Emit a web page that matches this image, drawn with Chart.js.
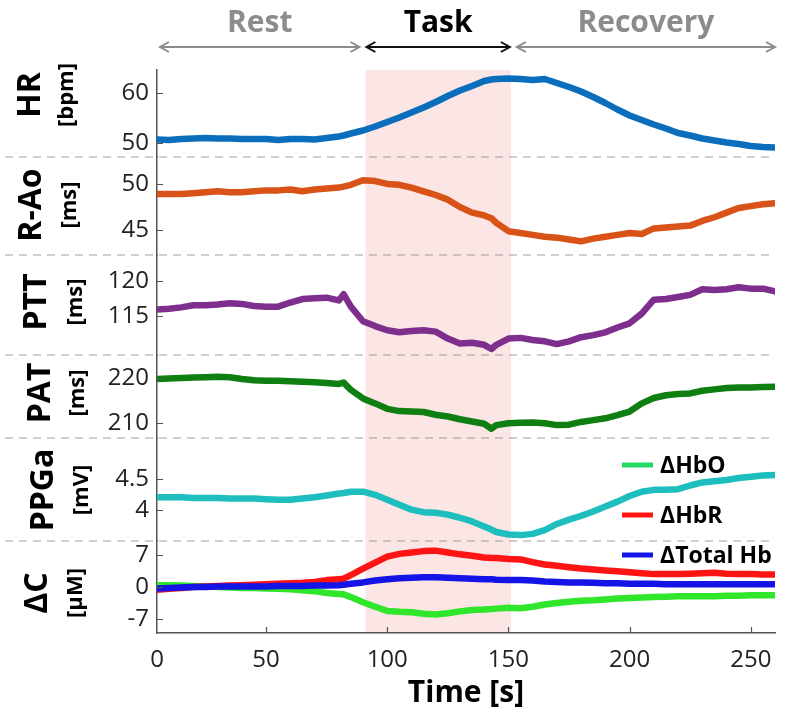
<!DOCTYPE html>
<html>
<head>
<meta charset="utf-8">
<script src="https://cdn.jsdelivr.net/npm/chart.js@4.4.1/dist/chart.umd.min.js"></script>
<style>
  html, body { margin: 0; padding: 0; background: #fff; }
</style>
</head>
<body>
<canvas id="chart" width="789" height="719"></canvas>
<script>
// time axis (s), shared by every trace
const times = [5, 10, 15, 20, 25, 30, 35, 40, 45, 50, 55, 60, 65, 70, 75, 80, 82, 85, 90, 95,
  100, 105, 110, 115, 120, 125, 130, 135, 140, 143, 145, 150, 155, 160, 165, 170, 175, 180, 185, 190,
  195, 200, 205, 210, 215, 220, 225, 230, 235, 240, 245, 250, 255, 260];

const hr = [50.7, 50.6, 50.8, 50.9, 51.0, 50.9, 50.9, 50.8, 50.8, 50.8, 50.6, 50.8, 50.8, 50.7, 51.0, 51.3, 51.5, 51.9, 52.5, 53.3,
  54.2, 55.1, 56.1, 57.1, 58.2, 59.4, 60.5, 61.4, 62.4, 62.7, 62.8, 62.9, 62.8, 62.6, 62.8, 62.0, 61.2, 60.3, 59.2, 58.0,
  56.7, 55.5, 54.6, 53.7, 52.9, 52.0, 51.5, 50.9, 50.5, 50.1, 49.8, 49.4, 49.2, 49.1];

const rao = [48.9, 48.9, 48.9, 49.0, 49.1, 49.2, 49.1, 49.1, 49.2, 49.3, 49.3, 49.4, 49.2, 49.4, 49.5, 49.6, 49.7, 49.9, 50.4, 50.3,
  50.0, 49.9, 49.6, 49.2, 48.8, 48.3, 47.5, 46.9, 46.6, 46.3, 45.8, 44.9, 44.7, 44.5, 44.3, 44.2, 44.0, 43.8, 44.1, 44.3,
  44.5, 44.7, 44.6, 45.2, 45.3, 45.4, 45.5, 46.0, 46.4, 46.9, 47.4, 47.6, 47.8, 47.9];

const ptt = [115.9, 116.0, 116.2, 116.5, 116.5, 116.6, 116.8, 116.7, 116.4, 116.3, 116.3, 116.9, 117.4, 117.5, 117.6, 117.2, 118.1, 116.3, 114.2, 113.5,
  112.9, 112.6, 112.8, 112.9, 112.7, 111.7, 111.0, 111.1, 110.8, 110.2, 110.8, 111.7, 111.8, 111.5, 111.3, 110.9, 111.3, 111.9, 112.2, 112.6,
  113.3, 113.9, 115.3, 117.3, 117.4, 117.7, 118.0, 118.8, 118.7, 118.8, 119.1, 118.9, 118.9, 118.5];

const pat = [219.8, 219.9, 220.0, 220.1, 220.2, 220.3, 220.2, 219.8, 219.5, 219.4, 219.4, 219.3, 219.2, 219.1, 218.9, 218.7, 219.0, 217.4, 215.5, 214.4,
  213.2, 212.7, 212.6, 212.5, 211.9, 211.5, 210.9, 210.4, 209.9, 208.8, 209.6, 210.0, 210.1, 210.2, 210.0, 209.6, 209.7, 210.3, 210.7, 211.1,
  211.8, 212.6, 214.4, 215.6, 216.2, 216.5, 216.6, 217.2, 217.5, 217.8, 217.9, 217.9, 218.0, 218.1];

const ppga = [4.20, 4.20, 4.20, 4.19, 4.19, 4.19, 4.18, 4.18, 4.18, 4.17, 4.16, 4.16, 4.18, 4.20, 4.23, 4.26, 4.27, 4.29, 4.29, 4.24,
  4.16, 4.08, 4.00, 3.96, 3.95, 3.92, 3.87, 3.81, 3.73, 3.68, 3.64, 3.60, 3.59, 3.61, 3.67, 3.77, 3.84, 3.90, 3.97, 4.05,
  4.13, 4.22, 4.29, 4.32, 4.32, 4.33, 4.39, 4.44, 4.46, 4.48, 4.51, 4.53, 4.55, 4.56];

const hbo = [0.4, 0.4, 0.3, 0.2, 0.1, 0.0, -0.1, -0.2, -0.2, -0.3, -0.4, -0.5, -0.7, -0.9, -1.3, -1.5, -1.6, -2.2, -3.3, -4.3,
  -5.2, -5.4, -5.5, -5.8, -6.0, -5.7, -5.3, -5.0, -4.9, -4.8, -4.7, -4.5, -4.6, -4.3, -3.8, -3.5, -3.2, -3.0, -2.9, -2.7,
  -2.5, -2.4, -2.3, -2.2, -2.1, -2.0, -2.0, -2.0, -2.0, -1.9, -1.9, -1.8, -1.8, -1.8];

const hbr = [-0.6, -0.4, -0.2, 0.0, 0.1, 0.2, 0.3, 0.4, 0.5, 0.6, 0.7, 0.8, 0.9, 1.1, 1.5, 1.7, 1.8, 2.6, 4.0, 5.3,
  6.6, 7.2, 7.5, 7.8, 7.9, 7.5, 7.1, 6.8, 6.4, 6.3, 6.3, 6.1, 6.0, 5.4, 4.9, 4.6, 4.3, 4.0, 3.8, 3.6,
  3.4, 3.2, 3.0, 2.8, 2.8, 2.8, 2.9, 3.0, 3.1, 2.9, 2.8, 2.8, 2.7, 2.7];

const hbt = [-0.3, -0.2, -0.1, 0.0, 0.0, 0.1, 0.1, 0.1, 0.1, 0.1, 0.2, 0.2, 0.2, 0.3, 0.3, 0.4, 0.5, 0.7, 1.0, 1.4,
  1.7, 1.9, 2.0, 2.1, 2.1, 2.0, 1.9, 1.8, 1.7, 1.7, 1.6, 1.5, 1.5, 1.4, 1.2, 1.1, 1.0, 1.0, 0.9, 0.8,
  0.8, 0.7, 0.7, 0.7, 0.6, 0.6, 0.6, 0.6, 0.6, 0.6, 0.6, 0.6, 0.6, 0.6];

// x axis
const xMin = 5, xMax = 260;
const xTickValues = [5, 50, 100, 150, 200, 250];
const xTickLabels = ['0', '50', '100', '150', '200', '250'];
const taskStart = 91, taskEnd = 151;
const phases = ['Rest', 'Task', 'Recovery'];

// panels, top to bottom
const panelIds = ['yHR', 'yRAo', 'yPTT', 'yPAT', 'yPPG', 'yC'];
const panelTitles = ['HR', 'R-Ao', 'PTT', 'PAT', 'PPGa', 'ΔC'];
const panelUnits = ['[bpm]', '[ms]', '[ms]', '[ms]', '[mV]', '[µM]'];
const panelMin = [47.2, 42.33, 109.33, 206.75, 3.495, -10];
const panelMax = [64.6, 52.9, 123.75, 225.1, 5.156, 10];
const panelTicks = [[50, 60], [45, 50], [115, 120], [210, 220], [4, 4.5], [-7, 0, 7]];
const panelHeights = [87, 98, 100, 83, 103, 92];

// label placement (rotated titles)
const labelY = [95, 205, 302, 393, 490, 593];
const titleX = [40, 41, 46, 50, 53, 47];
const unitX = [73, 76, 82, 84, 88, 82];

const series = [
  { label: 'ΔTotal Hb', data: hbt, color: '#1414e6', axis: 'yC', order: 0 },
  { label: 'ΔHbR', data: hbr, color: '#ff1414', axis: 'yC', order: 1 },
  { label: 'ΔHbO', data: hbo, color: '#2fe62a', axis: 'yC', order: 2 },
  { label: 'HR', data: hr, color: '#0a6ebd', axis: 'yHR', order: 3 },
  { label: 'R-Ao', data: rao, color: '#d95319', axis: 'yRAo', order: 3 },
  { label: 'PTT', data: ptt, color: '#7e2f8e', axis: 'yPTT', order: 3 },
  { label: 'PAT', data: pat, color: '#0e7f10', axis: 'yPAT', order: 3 },
  { label: 'PPGa', data: ppga, color: '#1ebebe', axis: 'yPPG', order: 3 }
];

// legend (drawn by hand, as in the figure)
const legendLabels = ['ΔHbO', 'ΔHbR', 'ΔTotal Hb'];
const legendColors = ['#22d866', '#ff1414', '#1414e6'];
const legendY = [465, 515, 555];

const FONT = "'Open Sans', 'Noto Sans', 'DejaVu Sans', sans-serif";
const AXIS = '#555';

const datasets = series.map(s => ({
  label: s.label,
  data: times.map((t, i) => ({ x: t, y: s.data[i] })),
  borderColor: s.color,
  borderWidth: 6.5,
  yAxisID: s.axis,
  order: s.order,
  pointRadius: 0,
  tension: 0,
  borderCapStyle: 'round',
  borderJoinStyle: 'round'
}));

const scales = {
  x: {
    type: 'linear',
    min: xMin,
    max: xMax,
    afterBuildTicks: s => { s.ticks = xTickValues.map(v => ({ value: v })); },
    afterFit: s => { s.height = 86; },
    ticks: {
      callback: (v, i) => xTickLabels[i],
      autoSkip: false, maxRotation: 0, padding: 13,
      color: '#222', font: { family: FONT, size: 24 }
    },
    grid: { display: false, drawTicks: false },
    border: { color: AXIS, width: 1.5 },
    title: {
      display: true, text: 'Time [s]', color: '#000',
      font: { family: FONT, size: 30, weight: 'bold' },
      padding: { top: 0, bottom: 8 }
    }
  }
};

// bottom panel first: the last stacked axis is laid out at the top
for (let i = panelIds.length - 1; i >= 0; i--) {
  scales[panelIds[i]] = {
    type: 'linear',
    position: 'left',
    stack: 'panels',
    stackWeight: panelHeights[i],
    min: panelMin[i],
    max: panelMax[i],
    afterBuildTicks: s => { s.ticks = panelTicks[i].map(v => ({ value: v })); },
    afterFit: s => { s.width = 157; },
    ticks: {
      callback: v => `${v}`,
      autoSkip: false, padding: 8,
      color: '#222', font: { family: FONT, size: 24 }
    },
    grid: { display: false, drawTicks: false },
    border: { color: AXIS, width: 1.5 }
  };
}

function arrow(ctx, x0, x1, y, color) {
  ctx.strokeStyle = color;
  ctx.lineWidth = 2;
  ctx.beginPath();
  ctx.moveTo(x0, y); ctx.lineTo(x1, y);
  ctx.moveTo(x0 + 9, y - 5); ctx.lineTo(x0, y); ctx.lineTo(x0 + 9, y + 5);
  ctx.moveTo(x1 - 9, y - 5); ctx.lineTo(x1, y); ctx.lineTo(x1 - 9, y + 5);
  ctx.stroke();
}

const decor = {
  id: 'decor',
  beforeDatasetsDraw(chart) {
    const { ctx, chartArea: a, scales: sc } = chart;
    const x0 = sc.x.getPixelForValue(taskStart), x1 = sc.x.getPixelForValue(taskEnd);
    ctx.save();
    ctx.fillStyle = '#fbe5e5';
    ctx.fillRect(x0, a.top, x1 - x0, a.bottom - a.top - 1);
    // dashed separators between panels
    ctx.setLineDash([8, 6]);
    ctx.strokeStyle = 'rgba(140,140,140,0.42)';
    ctx.lineWidth = 2;
    panelIds.slice(1).forEach(id => {
      const y = Math.round(sc[id].top);
      ctx.beginPath();
      ctx.moveTo(5, y); ctx.lineTo(a.right, y);
      ctx.stroke();
    });
    ctx.restore();
  },
  afterDraw(chart) {
    const { ctx, chartArea: a, scales: sc } = chart;
    ctx.save();
    // inward tick marks
    ctx.strokeStyle = AXIS;
    ctx.lineWidth = 1.2;
    ctx.beginPath();
    panelIds.forEach((id, i) => {
      panelTicks[i].forEach(v => {
        const y = Math.round(sc[id].getPixelForValue(v)) + 0.5;
        ctx.moveTo(a.left, y); ctx.lineTo(a.left + 6, y);
      });
    });
    xTickValues.slice(1).forEach(v => {
      const x = Math.round(sc.x.getPixelForValue(v)) + 0.5;
      ctx.moveTo(x, a.bottom); ctx.lineTo(x, a.bottom - 6);
    });
    ctx.stroke();

    // phase arrows and names
    const px0 = sc.x.getPixelForValue(xMin), pxS = sc.x.getPixelForValue(taskStart), pxE = sc.x.getPixelForValue(taskEnd);
    const spans = [[px0 + 3, pxS - 6], [pxS + 1, pxE - 1], [pxE + 6, a.right]];
    const colors = ['#8c8c8c', '#000', '#8c8c8c'];
    spans.forEach(([u, v], i) => {
      arrow(ctx, u, v, 47, colors[i] === '#000' ? '#111' : '#8c8c8c');
      ctx.fillStyle = colors[i];
      ctx.font = `bold 30px ${FONT}`;
      ctx.textAlign = 'center';
      ctx.textBaseline = 'alphabetic';
      ctx.fillText(phases[i], (u + v) / 2, 32);
    });

    // rotated panel titles
    ctx.fillStyle = '#000';
    panelIds.forEach((id, i) => {
      ctx.save();
      ctx.translate(titleX[i], labelY[i]);
      ctx.rotate(-Math.PI / 2);
      ctx.font = `bold 32px ${FONT}`;
      ctx.fillText(panelTitles[i], 0, 0);
      ctx.restore();
      ctx.save();
      ctx.translate(unitX[i], labelY[i]);
      ctx.rotate(-Math.PI / 2);
      ctx.font = `bold 22px ${FONT}`;
      ctx.fillText(panelUnits[i], 0, 0);
      ctx.restore();
    });

    // legend
    ctx.textAlign = 'left';
    ctx.textBaseline = 'middle';
    ctx.font = `bold 23px ${FONT}`;
    legendLabels.forEach((t, i) => {
      ctx.strokeStyle = legendColors[i];
      ctx.lineWidth = 5;
      ctx.beginPath();
      ctx.moveTo(622, legendY[i]); ctx.lineTo(653, legendY[i]);
      ctx.stroke();
      ctx.fillStyle = '#000';
      ctx.fillText(t, 660, legendY[i] + 1);
    });
    ctx.restore();
  }
};

new Chart(document.getElementById('chart'), {
  type: 'line',
  data: { datasets },
  options: {
    responsive: false,
    animation: false,
    layout: { padding: { top: 70, right: 14, left: 0, bottom: 0 } },
    plugins: { legend: { display: false }, tooltip: { enabled: false } },
    scales
  },
  plugins: [decor]
});
</script>
</body>
</html>
